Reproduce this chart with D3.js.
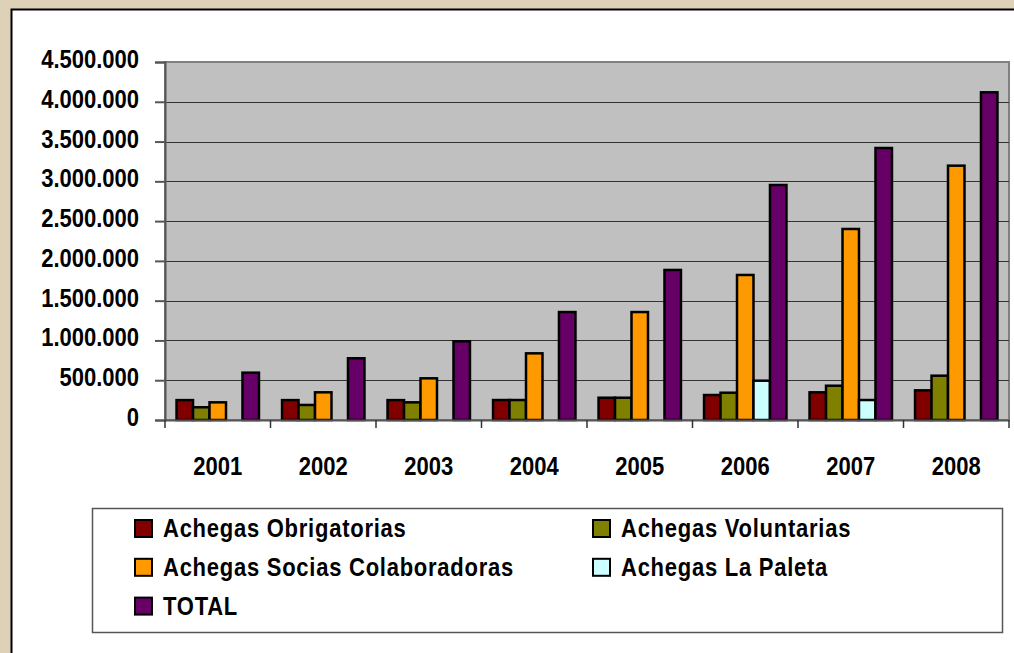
<!DOCTYPE html>
<html>
<head>
<meta charset="utf-8">
<script src="https://cdn.jsdelivr.net/npm/d3@7"></script>
<style>
  html, body { margin: 0; padding: 0; background: #ddd1b8; }
  svg { display: block; }
  text { font-family: "Liberation Sans", Arial, sans-serif; font-weight: bold; fill: #000; }
</style>
</head>
<body>
<svg id="chart"></svg>
<script>
// Datos
const anos = ["2001", "2002", "2003", "2004", "2005", "2006", "2007", "2008"];
const series = ["Achegas Obrigatorias", "Achegas Voluntarias", "Achegas Socias Colaboradoras", "Achegas La Paleta", "TOTAL"];
const obrigatorias = [250000, 250000, 250000, 251000, 280000, 314000, 348000, 373000];
const voluntarias = [160000, 189000, 222000, 251000, 280000, 343000, 431000, 557000];
const socias = [222000, 348000, 524000, 838000, 1357000, 1823000, 2401000, 3197000];
const paleta = [0, 0, 0, 0, 0, 494000, 251000, 0];
const total = [595000, 776000, 989000, 1357000, 1886000, 2954000, 3419000, 4119000];
const yTicks = [0, 500000, 1000000, 1500000, 2000000, 2500000, 3000000, 3500000, 4000000, 4500000];
const colores = ["#800000", "#808000", "#FF9900", "#CCFFFF", "#660066"];

const valores = [obrigatorias, voluntarias, socias, paleta, total];

const W = 1014, H = 653;
const svg = d3.select("#chart").attr("width", W).attr("height", H);
const estira = 1.14; // el texto original sale algo estirado en vertical

// Panel blanco
svg.append("rect")
    .attr("x", 11.5).attr("y", 9.5)
    .attr("width", W + 10).attr("height", H + 10)
    .attr("fill", "#fff").attr("stroke", "#000").attr("stroke-width", 2);

const plot = { left: 165, top: 62, right: 1009, bottom: 420 };

const x = d3.scaleBand()
    .domain(anos)
    .range([plot.left, plot.right]);

const xs = d3.scaleBand()
    .domain(series)
    .range([0, x.bandwidth()])
    .paddingOuter(0.7);

const y = d3.scaleLinear()
    .domain([0, 4500000])
    .range([plot.bottom, plot.top]);

// Área gris
svg.append("rect")
    .attr("x", plot.left).attr("y", plot.top)
    .attr("width", plot.right - plot.left).attr("height", plot.bottom - plot.top)
    .attr("fill", "#C0C0C0").attr("stroke", "#808080").attr("stroke-width", 2);

// Rejilla
svg.append("g")
    .selectAll("line")
    .data(yTicks.slice(1, -1))
    .join("line")
    .attr("x1", plot.left).attr("x2", plot.right)
    .attr("y1", d => Math.round(y(d)) + 0.5).attr("y2", d => Math.round(y(d)) + 0.5)
    .attr("stroke", "#333").attr("stroke-width", 1.2);

// Barras
anos.forEach((ano, i) => {
    const g = svg.append("g").attr("transform", `translate(${x(ano)},0)`);
    series.forEach((s, j) => {
        const v = valores[j][i];
        if (!v) return;
        g.append("rect")
            .attr("x", xs(s))
            .attr("y", y(v))
            .attr("width", xs.bandwidth())
            .attr("height", y(0) - y(v))
            .attr("fill", colores[j])
            .attr("stroke", "#000")
            .attr("stroke-width", 2.5);
    });
});

// Eje Y
const fmt = d => d === 0 ? "0" : d3.format(",")(d).replace(/,/g, ".");
const yAxis = svg.append("g")
    .attr("transform", `translate(${plot.left},0)`)
    .call(d3.axisLeft(y).tickValues(yTicks).tickFormat(fmt).tickSize(10).tickPadding(16));
yAxis.select(".domain").attr("stroke", "#555").attr("stroke-width", 2);
yAxis.selectAll(".tick line").attr("stroke", "#555").attr("stroke-width", 2);
yAxis.selectAll("text").attr("font-size", 22).attr("dy", "0.22em")
    .attr("transform", `scale(1,${estira})`)
    .attr("font-family", "Liberation Sans, Arial, sans-serif").attr("font-weight", "bold").attr("fill", "#000");

// Eje X
const xAxis = svg.append("g")
    .attr("transform", `translate(0,${plot.bottom})`)
    .call(d3.axisBottom(x).tickSize(0).tickPadding(0));
xAxis.select(".domain").attr("stroke", "#555").attr("stroke-width", 2);
xAxis.selectAll("text").attr("font-size", 22).attr("y", 0).attr("dy", null)
    .attr("transform", `translate(0,55) scale(1,${estira})`)
    .attr("font-family", "Liberation Sans, Arial, sans-serif").attr("font-weight", "bold").attr("fill", "#000");
xAxis.selectAll(".sep")
    .data(anos.concat(["fin"]))
    .join("line")
    .attr("class", "sep")
    .attr("x1", (d, i) => plot.left + i * x.step()).attr("x2", (d, i) => plot.left + i * x.step())
    .attr("y1", 0).attr("y2", 8)
    .attr("stroke", "#333").attr("stroke-width", 1.5);

// Leyenda
svg.append("rect")
    .attr("x", 92.5).attr("y", 508.5)
    .attr("width", 910).attr("height", 124)
    .attr("fill", "#fff").attr("stroke", "#555").attr("stroke-width", 1.5);

const leg = svg.append("g");
series.forEach((s, j) => {
    const col = j % 2, row = Math.floor(j / 2);
    const lx = col === 0 ? 135 : 593;
    const ly = 529 + row * 38.8;
    leg.append("rect")
        .attr("x", lx).attr("y", ly - 9)
        .attr("width", 17).attr("height", 17)
        .attr("fill", colores[j]).attr("stroke", "#000").attr("stroke-width", 2);
    leg.append("text")
        .attr("font-size", 22)
        .attr("letter-spacing", 0.75)
        .attr("transform", `translate(${lx + 28},${ly + 8}) scale(1,${estira})`)
        .text(s);
});
</script>
</body>
</html>
